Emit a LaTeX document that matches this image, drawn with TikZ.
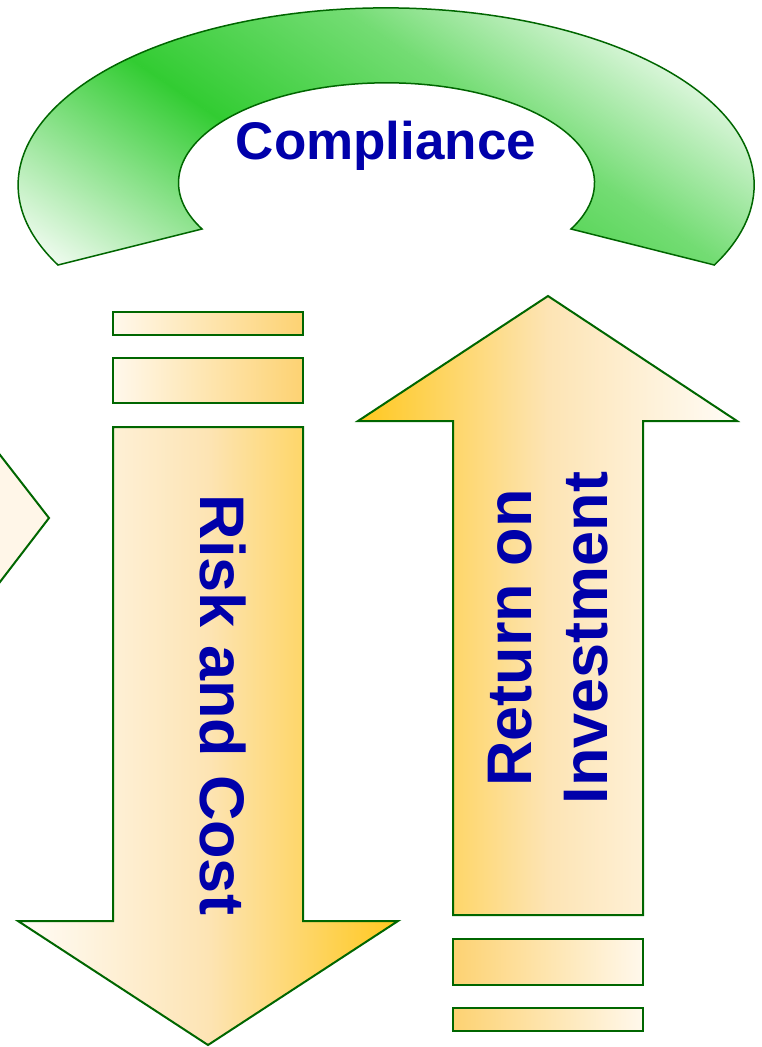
\documentclass[tikz,border=0pt]{standalone}
\usepackage{fontspec}
\setmainfont{Liberation Sans}
\definecolor{dkgreen}{RGB}{0,102,0}
\definecolor{arcgreen}{RGB}{50,204,50}
\definecolor{txtblue}{RGB}{0,0,170}
\definecolor{gold}{RGB}{255,200,30}
\definecolor{goldmid}{RGB}{253,228,180}
\definecolor{cream}{RGB}{255,252,247}
\definecolor{barlight}{RGB}{255,248,236}
\definecolor{bardark}{RGB}{253,210,114}
\definecolor{leftfill}{RGB}{255,246,232}
\tikzset{
  outline/.style={draw=dkgreen, line width=2pt, line join=miter},
  downshade/.style={outline, left color=cream, right color=gold, middle color=goldmid},
  upshade/.style={outline, left color=gold, right color=cream, middle color=goldmid},
  downbar/.style={outline, left color=barlight, right color=bardark},
  upbar/.style={outline, left color=bardark, right color=barlight},
  lbl/.style={text=txtblue, font=\bfseries, inner sep=0pt},
}
\begin{document}
\begin{tikzpicture}[x=1pt,y=-1pt]
\useasboundingbox (0,0) rectangle (761,1047);
\clip (0,0) rectangle (761,1047);

% Compliance arc
\def\arcpath{(58,265) arc[start angle=206.9, end angle=-26.9, x radius=368pt, y radius=177pt] -- (571,229) arc[start angle=-27.5, end angle=207.5, x radius=208pt, y radius=100pt] -- cycle}
\begin{scope}
  \clip \arcpath;
  \fill[white] (0,0) rectangle (761,300);
  \begin{scope}[transform canvas={rotate around={-34:(170,85)}}]
    % lower-left side of the band
    \shade[top color=arcgreen, bottom color=white]
      (-700,85) rectangle (1100,315);
    % upper-right side of the band
    \shade[top color=arcgreen!68!white, bottom color=arcgreen]
      (-700,-75.5) rectangle (1100,85.5);
    \shade[top color=white, bottom color=arcgreen!68!white]
      (-700,-255) rectangle (1100,-75);
    \fill[white] (-700,-600) rectangle (1100,-254.5);
  \end{scope}
\end{scope}
\draw[draw=dkgreen, line width=1.5pt] \arcpath;
\node[lbl, anchor=base, font=\bfseries\fontsize{53}{60}\selectfont] (compliance) at (386,159) {Compliance};

% left partial arrow
\filldraw[fill=leftfill, draw=dkgreen, line width=2pt, line join=miter]
  (-10,442) -- (49,518) -- (-10,595);

% down arrow with bars
\shadedraw[downbar] (113,312) rectangle (303,335);
\shadedraw[downbar] (113,358) rectangle (303,403);
\shadedraw[downshade] (113,427) -- (303,427) -- (303,921) -- (398,921) -- (208,1045) -- (18,921) -- (113,921) -- cycle;
\node[lbl, rotate=-90, font=\bfseries\fontsize{63}{76}\selectfont] (risk) at (223.5,705) {Risk and Cost};

% up arrow with bars
\shadedraw[upshade] (548,296) -- (737,421) -- (643,421) -- (643,915) -- (453,915) -- (453,421) -- (358,421) -- cycle;
\shadedraw[upbar] (453,939) rectangle (643,985);
\shadedraw[upbar] (453,1008) rectangle (643,1031);
\node[lbl, rotate=90, align=center, font=\bfseries\fontsize{63}{76}\selectfont] (roi) at (548,638) {Return on\\Investment};
\end{tikzpicture}
\end{document}
